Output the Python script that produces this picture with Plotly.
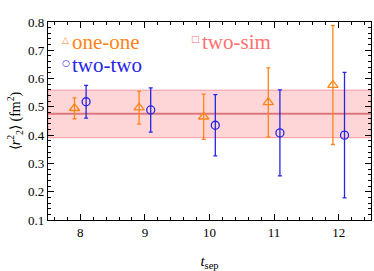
import plotly.graph_objects as go

# Data
tsep = [8, 9, 10, 11, 12]
one_one = [0.495, 0.497, 0.465, 0.516, 0.577]
one_one_err = [0.037, 0.058, 0.080, 0.122, 0.210]
two_two = [0.518, 0.489, 0.435, 0.408, 0.400]
two_two_err = [0.058, 0.078, 0.108, 0.152, 0.222]
offset = 0.09
band_center = 0.476
band_lo = 0.391
band_hi = 0.559

ORANGE = "#ff8418"
BLUE = "#2626e6"
PINK = "#ff7070"
SERIF = "Liberation Serif"

fig = go.Figure()

fig.add_shape(type="rect", xref="x domain", yref="y", x0=0, x1=1, y0=band_lo, y1=band_hi,
              fillcolor="rgba(255,90,100,0.25)", line=dict(color="rgba(240,120,130,0.7)", width=1), layer="below")
fig.add_shape(type="line", xref="x domain", yref="y", x0=0, x1=1, y0=band_center, y1=band_center,
              line=dict(color="rgba(215,110,115,0.9)", width=2), layer="below")

fig.add_trace(go.Scatter(
    x=[t - offset for t in tsep], y=one_one, mode="markers",
    marker=dict(symbol="triangle-up-open", size=9, color=ORANGE, line=dict(width=1.3)),
    error_y=dict(type="data", array=one_one_err, color=ORANGE, thickness=1.3, width=2),
    showlegend=False, hoverinfo="skip"))
fig.add_trace(go.Scatter(
    x=[t + offset for t in tsep], y=two_two, mode="markers",
    marker=dict(symbol="circle-open", size=8, color=BLUE, line=dict(width=1.3)),
    error_y=dict(type="data", array=two_two_err, color=BLUE, thickness=1.3, width=2),
    showlegend=False, hoverinfo="skip"))

# legend-like labels: (symbol, label, colour, symbol x, text x, symbol y, text y)
legend_items = [
    ("△", "one-one", ORANGE, 0.036, 0.068, 0.909, 0.90),
    ("○", "two-two", BLUE, 0.036, 0.068, 0.793, 0.783),
    ("□", "two-sim", PINK, 0.438, 0.470, 0.912, 0.90),
]
for sym, lab, col, sx, tx, sy, ty in legend_items:
    fig.add_annotation(xref="paper", yref="paper", x=sx, y=sy, text=sym, showarrow=False,
                       font=dict(family="DejaVu Sans", size=9, color=col), xanchor="left", yanchor="middle")
    fig.add_annotation(xref="paper", yref="paper", x=tx, y=ty, text=lab, showarrow=False,
                       font=dict(family=SERIF, size=21, color=col), xanchor="left", yanchor="middle")

axis_common = dict(showline=True, linecolor="black", linewidth=1.2, mirror="allticks",
                   ticks="inside", ticklen=6, tickwidth=1, tickcolor="black",
                   showgrid=False, zeroline=False,
                   tickfont=dict(family=SERIF, size=13, color="black"))

fig.update_xaxes(range=[7.5, 12.5], tickvals=tsep, ticktext=[str(t) for t in tsep],
                 minor=dict(ticks="inside", dtick=0.2, tick0=0, ticklen=3, tickcolor="black", showgrid=False),
                 title=dict(text="<i>t</i><sub>sep</sub>", font=dict(family=SERIF, size=15, color="black"), standoff=16),
                 **axis_common)
fig.update_yaxes(range=[0.1, 0.8], dtick=0.1, tickformat=".1f",
                 minor=dict(ticks="inside", dtick=0.02, tick0=0, ticklen=3, tickcolor="black", showgrid=False),
                 title=dict(text="⟨<i>r</i><sup>2</sup><sub>2</sub>⟩ (fm<sup>2</sup>)",
                            font=dict(family=SERIF, size=14, color="black"), standoff=4),
                 **axis_common)

fig.update_layout(width=374, height=271, margin=dict(l=48, r=3, t=22, b=51),
                  plot_bgcolor="white", paper_bgcolor="white",
                  font=dict(family=SERIF), hovermode=False)

fig.write_html("out.html", config={"displayModeBar": False},
               post_script="document.body.style.margin='0px';")
